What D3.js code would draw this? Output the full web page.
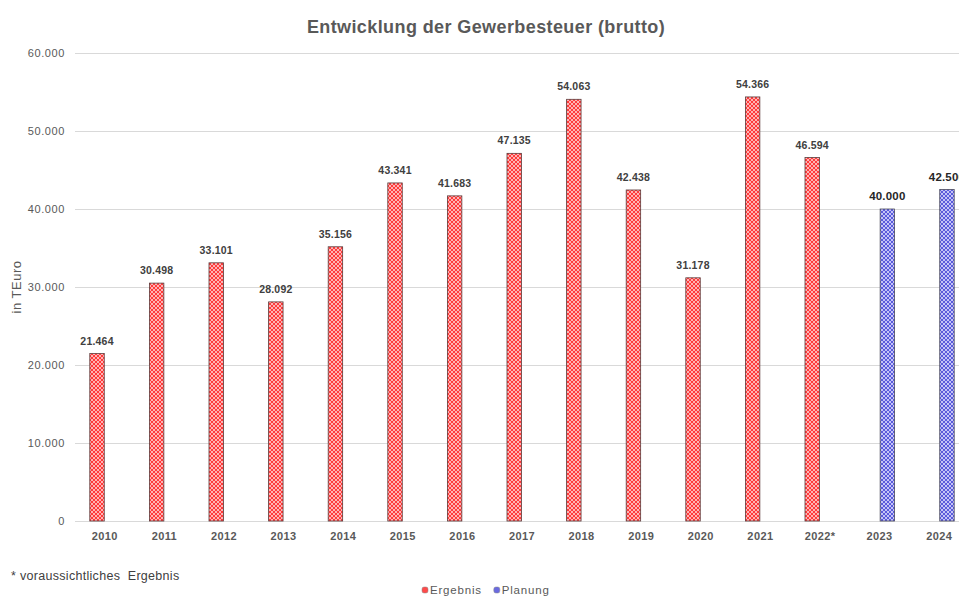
<!DOCTYPE html>
<html>
<head>
<meta charset="utf-8">
<script src="https://cdn.jsdelivr.net/npm/d3@7"></script>
<style>
  body { margin: 0; background: #fff; }
  svg { display: block; font-family: "Liberation Sans", Arial, sans-serif; }
</style>
</head>
<body>
<div id="chart"></div>
<script>
const years = ['2010', '2011', '2012', '2013', '2014', '2015', '2016', '2017', '2018', '2019', '2020', '2021', '2022*', '2023', '2024'];
const ergebnis = [21464, 30498, 33101, 28092, 35156, 43341, 41683, 47135, 54063, 42438, 31178, 54366, 46594, null, null];
const planung = [null, null, null, null, null, null, null, null, null, null, null, null, null, 40000, 42500];
const seriesNames = ['Ergebnis', 'Planung'];
const yTicks = [0, 10000, 20000, 30000, 40000, 50000, 60000];

const width = 959;
const height = 597;
const margin = { top: 53, bottom: 76, left: 75, right: -10 };
const innerWidth = width - margin.left - margin.right;
const innerHeight = height - margin.top - margin.bottom;

const deFormat = d => d3.format(',')(d).replace(/,/g, '.');

const svg = d3.select('#chart').append('svg')
  .attr('width', width)
  .attr('height', height)
  .attr('viewBox', [0, 0, width, height]);

// checker patterns for the bars
const defs = svg.append('defs');
function addPattern(id, dark, light) {
  const p = defs.append('pattern')
    .attr('id', id)
    .attr('width', 4).attr('height', 4)
    .attr('patternUnits', 'userSpaceOnUse');
  p.append('rect').attr('width', 4).attr('height', 4).attr('fill', light);
  p.append('rect').attr('width', 2).attr('height', 2).attr('fill', dark);
  p.append('rect').attr('x', 2).attr('y', 2).attr('width', 2).attr('height', 2).attr('fill', dark);
}
addPattern('pat-erg', '#ff3b3b', '#ffb3b3');
addPattern('pat-plan', '#5b5bdc', '#c4c4f6');
const colors = { Ergebnis: 'url(#pat-erg)', Planung: 'url(#pat-plan)' };
const strokes = { Ergebnis: '#5a3a3a', Planung: '#4a4a5a' };
const swatch = { Ergebnis: '#ff4a4a', Planung: '#6a6ae0' };

const g = svg.append('g')
  .attr('transform', `translate(${margin.left},${margin.top})`);

const xScale = d3.scaleBand().domain(years).range([0, innerWidth]).padding(0);
const x1 = d3.scaleBand().domain(seriesNames).range([xScale.bandwidth() / 2 - 15, xScale.bandwidth() / 2 + 15]).paddingInner(0.07);
const yScale = d3.scaleLinear().domain([0, 60000]).range([innerHeight, 0]);

// gridlines + y labels
const yAxis = d3.axisLeft(yScale)
  .tickValues(yTicks)
  .tickSize(-innerWidth)
  .tickPadding(10)
  .tickFormat(deFormat);
const yAxisG = g.append('g').call(yAxis);
yAxisG.select('.domain').remove();
yAxisG.selectAll('.tick line').attr('stroke', '#d9d9d9').attr('stroke-width', 1);
yAxisG.selectAll('.tick text')
  .attr('fill', '#595959')
  .attr('font-size', 11)
  .attr('letter-spacing', 0.6)
  .attr('x', -10);

// x axis
const xAxis = d3.axisBottom(xScale).tickSize(0).tickPadding(11);
const xAxisG = g.append('g')
  .attr('transform', `translate(0,${innerHeight})`)
  .call(xAxis);
xAxisG.select('.domain').attr('stroke', '#d9d9d9');
xAxisG.selectAll('.tick text')
  .attr('fill', '#595959')
  .attr('font-size', 11)
  .attr('letter-spacing', 0.4)
  .attr('font-weight', 'bold');

const rows = years.map((y, i) => ({ year: y, Ergebnis: ergebnis[i], Planung: planung[i] }));

seriesNames.forEach(name => {
  const data = rows.filter(d => d[name] != null);
  g.selectAll('.bar-' + name)
    .data(data)
    .join('rect')
    .attr('class', 'bar-' + name)
    .attr('x', d => xScale(d.year) + x1(name))
    .attr('y', d => yScale(d[name]))
    .attr('width', x1.bandwidth())
    .attr('height', d => yScale(0) - yScale(d[name]))
    .attr('fill', colors[name])
    .attr('stroke', strokes[name])
    .attr('stroke-width', 0.8);
  g.selectAll('.label-' + name)
    .data(data)
    .join('text')
    .attr('class', 'label-' + name)
    .attr('x', d => xScale(d.year) + x1(name) + x1.bandwidth() / 2)
    .attr('y', d => yScale(d[name]) - 9)
    .attr('text-anchor', 'middle')
    .attr('font-size', name === 'Planung' ? 11.5 : 10.5)
    .attr('letter-spacing', 0.2)
    .attr('font-weight', 'bold')
    .attr('fill', name === 'Planung' ? '#262626' : '#404040')
    .text(d => deFormat(d[name]));
});

// title
svg.append('text')
  .attr('x', 486)
  .attr('y', 33)
  .attr('text-anchor', 'middle')
  .attr('font-size', 18)
  .attr('letter-spacing', 0.4)
  .attr('font-weight', 'bold')
  .attr('fill', '#595959')
  .text('Entwicklung der Gewerbesteuer (brutto)');

// y axis title
svg.append('text')
  .attr('transform', `translate(21,${margin.top + innerHeight / 2}) rotate(-90)`)
  .attr('text-anchor', 'middle')
  .attr('font-size', 13)
  .attr('letter-spacing', 0.5)
  .attr('fill', '#595959')
  .text('in TEuro');

// footnote
svg.append('text')
  .attr('x', 11)
  .attr('y', 580)
  .attr('font-size', 12.5)
  .attr('letter-spacing', 0.3)
  .attr('fill', '#404040')
  .style('white-space', 'pre')
  .text('* voraussichtliches  Ergebnis');

// legend
const legend = svg.append('g').attr('transform', 'translate(422,590)');
let lx = 0;
seriesNames.forEach(name => {
  const item = legend.append('g').attr('transform', `translate(${lx},0)`);
  item.append('rect')
    .attr('x', 0).attr('y', -3)
    .attr('width', 6).attr('height', 6)
    .attr('rx', 2)
    .attr('fill', swatch[name])
    .attr('stroke', '#888').attr('stroke-width', 0.5);
  const t = item.append('text')
    .attr('x', 8)
    .attr('y', 4)
    .attr('font-size', 11.5)
    .attr('letter-spacing', 0.8)
    .attr('fill', '#595959')
    .text(name);
  lx += 8 + t.node().getComputedTextLength() + 12;
});
</script>
</body>
</html>
